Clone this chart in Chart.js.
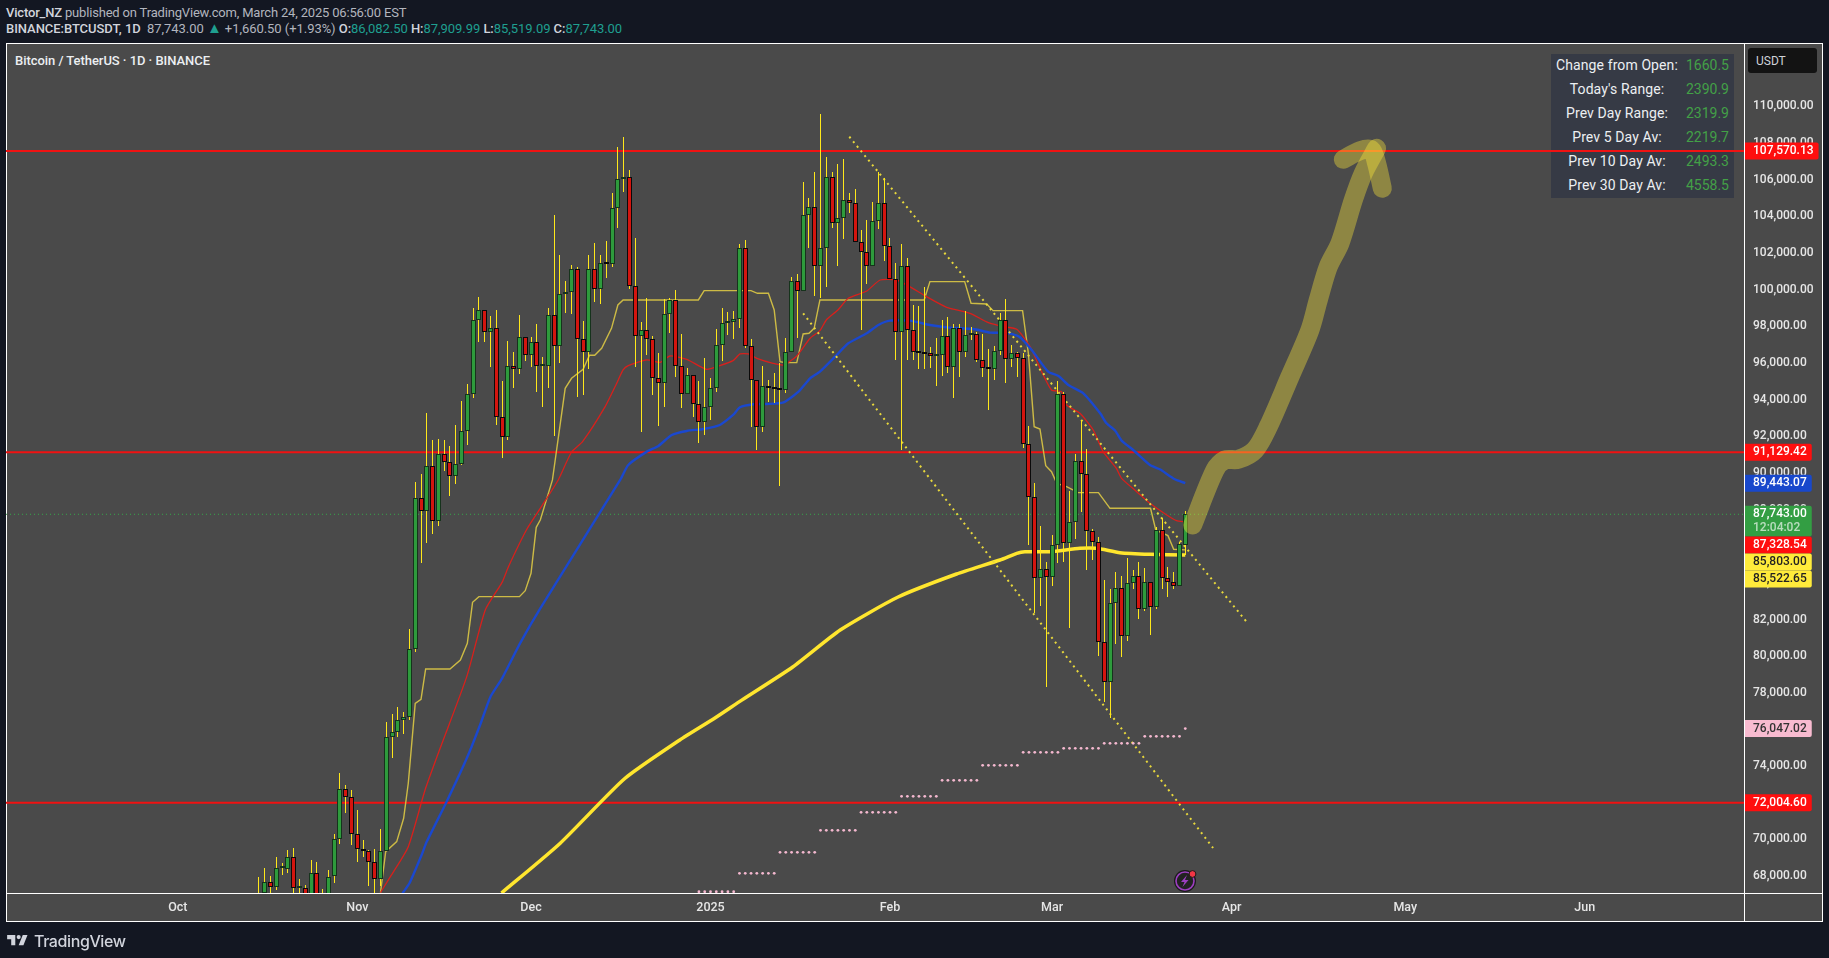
<!DOCTYPE html>
<html>
<head>
<meta charset="utf-8">
<title>BTCUSDT 1D</title>
<script src="https://cdn.jsdelivr.net/npm/chart.js@4/dist/chart.umd.min.js"></script>
<style>
  html, body { margin: 0; padding: 0; background: #131722; }
  body { width: 1829px; height: 958px; position: relative; overflow: hidden; font-family: Roboto, sans-serif; }
  .hdr { position: absolute; left: 6px; font-size: 13px; white-space: nowrap; color: #b2b5be; line-height: 16px; letter-spacing: -0.18px; }
  .hdr b { font-weight: 500; color: #d1d4dc; }
  .hdr .up { color: #1f9f90; }
  #pane { position: absolute; left: 7px; top: 44px; width: 1815px; height: 877px; background: #4a4a4a; outline: 1px solid #fff; }
  #vline { position: absolute; left: 1737px; top: 0; width: 1px; height: 877px; background: #fff; }
  #hline { position: absolute; left: 0; top: 849px; width: 1815px; height: 1px; background: #fff; }
  #title { position: absolute; left: 8px; top: 9px; font-size: 13px; font-weight: 500; color: #eceff2; letter-spacing: -0.05px; }
  #stats { position: absolute; left: 1544px; top: 10px; width: 183px; height: 144px; background: #363a45; }
  #stats div { position: absolute; height: 24px; line-height: 23px; font-size: 14px; white-space: nowrap; }
  #stats .k { color: #eceff2; left: 0; width: 132px; text-align: center; letter-spacing: 0.1px; }
  #stats .v { color: #43a047; right: 5px; }
  #usdt { position: absolute; left: 1741px; top: 4px; width: 69px; height: 25px; line-height: 26px; background: #131313; border-radius: 3px; color: #cfd2d8; font-size: 12px; padding-left: 8px; box-sizing: border-box; }
  canvas { position: absolute; left: 0; top: 0; }
  #bolt { position: absolute; left: 1172px; top: 867px; }
  #logo { position: absolute; left: 5px; top: 931px; height: 19px; display: flex; align-items: center; color: #d1d4dc; font-family: Inter, sans-serif; font-size: 16px; font-weight: 500; letter-spacing: -0.4px; }
</style>
</head>
<body>
<div class="hdr" style="top:5px"><b>Victor_NZ</b> published on TradingView.com, March 24, 2025 06:56:00 EST</div>
<div class="hdr" style="top:21px;letter-spacing:-0.05px"><b>BINANCE:BTCUSDT, 1D</b> &nbsp;87,743.00 <span class="up" style="font-size:15px;line-height:12px">▲</span> +1,660.50 (+1.93%) <b>O:</b><span class="up">86,082.50</span> <b>H:</b><span class="up">87,909.99</span> <b>L:</b><span class="up">85,519.09</span> <b>C:</b><span class="up">87,743.00</span></div>
<div id="pane">
  <div id="title">Bitcoin / TetherUS · 1D · BINANCE</div>
  <div id="stats"></div>
  <div id="vline"></div>
  <div id="hline"></div>
  <div id="usdt">USDT</div>
</div>
<canvas id="chart" width="1829" height="958"></canvas>
<svg id="bolt" width="26" height="26" viewBox="0 0 26 26">
  <circle cx="13" cy="14" r="11" fill="#1a1a1a"/>
  <circle cx="13" cy="14" r="9" fill="#222" stroke="#9c3fc0" stroke-width="1.6"/>
  <path d="M15 8l-6 7h3.5l-2 5 6-7h-3.5z" fill="#9c3fc0"/>
  <circle cx="20.5" cy="7" r="3.4" fill="#f23645" stroke="#1a1a1a"/>
</svg>
<div id="logo">
  <svg width="26" height="19" viewBox="0 0 36 28" style="margin-right:3px"><path fill="#d1d4dc" d="M14 6H2v6h6v9h6V6Zm12 15h-7l6-15h7l-6 15Zm-7-9a3 3 0 1 0 0-6 3 3 0 0 0 0 6Z"/></svg>
  TradingView
</div>
<script>
// days are counted from 2024-10-01 (day 0), first candle is 2024-10-15
const firstCandleDay = 14;
const candleOpen = [
  65600,67050,67660,67420,68430,68400,69060,67370,67370,66680,68170,66630,67020,68000,70000,72730,72340,
  70290,69500,69380,68790,67830,69380,75590,75880,76540,76700,80370,88650,87950,90360,87350,91020,90590,89860,90470,92310,94290,98330,98880,97680,97900,93040,91950,95860,95650,97440,
  96420,97170,95820,95860,98600,96950,99780,99860,101110,97290,96590,101110,100020,101440,101400,104440,106030,106130,100190,97460,97780,97290,95170,94890,98660,99420,95820,94290,95330,93750,92800,
  93580,94620,96970,98170,98220,98380,102260,96950,95060,92530,94730,94620,94570,94540,96580,100500,99950,104050,104540,101310,102260,106130,103660,103900,104880,104710,102620,102080,101310,103730,104710,
  102400,100600,97680,101310,97800,96620,96560,96530,96400,96460,97460,95760,97890,96580,97510,97560,96150,95760,95650,96640,98330,96200,96530,96260,91560,88670,84250,84740,
  84340,86050,94290,86200,87300,90630,89920,86810,86210,80760,78610,82920,83700,81120,83980,84360,82590,84030,82700,86870,84250,84070,83850,86082.5
];
const candleHigh = [
  67950,68450,68000,69020,68700,69420,69520,67860,67500,68850,68780,67320,68350,70280,73620,72980,72700,
  71630,69950,69400,69480,70580,76400,76850,77250,76950,81500,89530,89940,93260,91790,91850,91780,91450,92590,93930,94830,98980,99590,98880,98560,98870,95020,97200,96590,98600,97440,
  97440,98110,96310,98990,104080,101900,100480,101350,101260,98290,101900,102530,101900,102660,105260,107770,108320,106530,102800,98260,99530,97470,96530,99480,99570,99990,97580,95710,95330,95040,96260,
  95170,97840,98990,98800,98840,102480,102710,97290,95060,95840,95070,95440,95980,97350,100680,100860,105880,104990,106430,109590,107240,106440,106840,107120,105260,105500,103260,103800,104790,106440,106080,
  102800,101440,102500,101710,99170,99110,100130,96860,97350,98350,98490,98130,98130,98840,97950,97710,97570,96750,96930,98710,99480,96980,96620,96530,92560,89430,87100,85120,
  86610,95020,94440,89030,91030,92890,91310,86920,86520,84160,83670,84580,84380,85340,84700,85120,84800,84030,87070,87520,84890,84610,86250,87909.99
];
const candleLow = [
  64800,66750,66750,67240,68060,68190,66800,66580,65250,66450,65520,66580,66800,67600,69760,71430,69680,
  68780,69030,67460,66800,67460,69380,74460,75600,75750,76500,80220,85070,86200,86670,87100,90090,88720,89380,90420,91500,94070,97160,97150,95800,92620,90830,91800,94660,95400,96130,
  95770,94440,93620,94660,92000,96020,98710,98680,94160,94260,95670,99350,99220,100660,101260,103390,105350,100040,95800,92250,96440,94260,92580,93620,97620,95260,93560,94290,93070,91620,92070,
  92890,94440,96130,97530,97310,97900,96800,92530,91250,92250,93890,93800,89260,94380,96580,97350,99950,102260,99680,99530,100170,103350,101310,102770,104170,102620,97800,100310,101310,103310,101570,
  100600,96170,91250,96170,96170,95690,95650,95750,94760,95310,95440,94110,95260,96350,97260,96070,95260,93440,95070,96440,94930,95800,95260,91380,86070,82340,82760,78340,
  83850,85100,85160,81560,86380,87890,84700,85250,80010,77480,76650,80670,79980,80830,83670,82030,82490,81160,82560,83650,83250,83650,83850,85519.09
];
const candleClose = [
  67050,67650,67420,68430,68480,69040,67370,67370,66680,68170,66630,67020,67960,70000,72730,72340,70290,
  69500,69380,68790,67830,69380,75590,75880,76540,76700,80370,88650,87950,90360,87350,91020,90590,89860,90470,92310,94290,98330,98880,97680,97900,93040,91950,95860,95650,97440,96420,
  97170,95820,95860,98600,96950,99780,99860,101110,97290,96590,101110,100020,101440,101400,104440,106030,106130,100190,97460,97780,97290,95170,94890,98660,99420,95820,94290,95330,93750,92800,93580,
  94620,96970,98170,98220,98380,102260,96950,95060,92530,94730,94620,94570,94540,96580,100500,99950,104050,104540,101310,102260,106130,103660,103900,104880,104710,102620,102080,101310,103730,104710,102400,
  100600,97680,101310,97800,96620,96560,96500,96400,96450,97460,95760,97890,96580,97510,97530,96150,95750,95650,96640,98330,96200,96530,96260,91560,88670,84250,84740,84340,
  86050,94290,86200,87300,90630,89920,86810,86210,80760,78610,82920,83700,81120,83980,84360,82590,84030,82700,86870,84250,84070,83850,86100,87743
];

// slow moving average, thick yellow
const smaDays = [55.9,66,77.1,86.7,92.7,97.4,106.2,114.4,124.4,134.5,142,144.9,146.3,150.6,155.8,158.7,162.7,167.9,174];
const smaValues = [67075,69781,73296,75425,76610,77600,79409,81428,83229,84484,85250,85614,85702,85702,85888,85888,85648,85560,85522.65];

// blue average
const blueDays = [38.8,40,42.1,43,46.4,49.9,52.2,54,56,59.1,62.6,76.4,77.8,81,83,85.3,87.9,90.8,93.6,95.9,97.1,99.4,101.7,104.6,107.2,109.2,110.9,113.8,115.8,119,121,123,126.4,129.9,133.3,137.4,140.3,143.1,145.4,147.7,150.3,152.1,153.8,156.4,159.3,160.4,161.9,163,165,167.9,169.6,172.2,174];
const blueValues = [67060,67605,69150,69880,72043,74426,76245,77790,78792,80700,82610,89617,90435,91163,91472,92072,92291,92400,92618,93164,93583,93746,93764,93855,94437,95165,95529,96438,97074,97620,98075,98311,98311,98075,97929,97857,97656,97650,97420,96618,95527,95291,94799,94345,93253,92708,92307,91762,91253,90434,90197,89652,89443.07];

// red average
const redDays = [35,36.9,39.8,42.7,45.3,49.9,53.1,56,57.1,60.2,62.6,65.7,68,69.9,73.8,75.8,76.9,77.8,81,83.3,85,87.9,91.3,93.6,95.9,97.1,98.5,100,102.8,104.6,106.9,109.2,110.9,112,114,115.8,119,121.3,124.1,126.4,129.3,132.8,136.8,140,142.6,144.9,147.2,149.2,150.9,152.6,153.5,155.8,158.1,159.8,162.1,163,165.6,167.9,170.8,172.5,174];
const redValues = [67100,68060,69605,72698,74972,78882,82521,84030,84885,86886,88069,89617,91144,91708,93619,94892,95620,95856,96165,96038,96383,96201,95656,95856,96129,96493,96493,96256,95983,95892,96383,97348,97766,98348,98893,99530,99930,100530,100530,100167,99621,99039,98711,98202,97983,97837,96891,95527,94526,94436,93708,93253,92344,91161,90252,89706,88979,88342,87705,87396,87328.54];

// thin yellow band
const bandDays = [35,35.9,37.8,39,39.8,41,42,42.8,47,48.8,50,50.9,52,59,60,61,61.9,62.6,64.7,66.9,68,70,71.1,72,73.2,74.9,76,76.9,89.9,90.9,99,100.1,102,103,104,104.9,106.9,108,109,109.9,110.9,128.9,129.9,135.9,137,139.7,140.8,145.9,146.9,147.9,148.9,149.9,150.9,151.8,153.5,155.5,159,161,168,168.9,171,172,174];
const bandValues = [67100,69333,69878,71151,73062,77427,77645,79301,79301,79792,80702,82939,83248,83248,83576,84521,87032,87432,89617,94619,95165,95656,96420,96420,96802,97893,99167,99439,99439,99949,99949,99803,99803,98894,96074,96020,96020,97584,97620,97893,99439,99439,100439,100439,99257,99221,98857,98857,96527,92526,92398,90397,90070,89433,89251,88924,88924,88069,88069,86887,86578,85832,85803];

// weekly pink dots: first day of each week and its level
const pinkWeeks = [90,97,104,111,118,125,132,139,146,153,160,167,174];
const pinkLevels = [67146,68150,69296,70496,71479,72352,73226,74044,74754,74972,75245,75627,76047.02];

// horizontal levels and the last price
const redLevels = [107570.13,91129.42,72004.60];
const lastPrice = 87743;

// hand drawn lines
const upperTrendDays = [115.97,184.9];
const upperTrendValues = [108350,81755];
const lowerTrendDays = [108,178.8];
const lowerTrendValues = [98712,69530];
const arrowDays = [175.27,179.13,180.85,183.16,186.03,188.34,192.08,195.53,196.97,198.7,200.71,203.02,204.74,207.05];
const arrowValues = [87161,90162,90708,90745,91254,92527,95256,97802,99439,101258,102532,104896,106352,107716];
const arrowHeadDays = [201.29,204.17,206.18,207.05,208.03];
const arrowHeadValues = [107116,107589,107625,106897,105533];

// axes
const monthDays = [0,31,61,92,123,151,182,212,243];
const monthLabels = ["Oct","Nov","Dec","2025","Feb","Mar","Apr","May","Jun"];
const priceTicks = [68000,70000,72000,74000,76000,78000,80000,82000,84000,86000,88000,90000,92000,94000,96000,98000,100000,102000,104000,106000,108000,110000];

// labels on the price axis
const tagValues = [107570.13,91129.42,89443.07,87743,87328.54,85803,85522.65,76047.02,72004.60];
const tagFills = ["#ff0e0e","#ff0e0e","#1848cc","#339e43","#ff0e0e","#ffeb3b","#ffeb3b","#f8bbd0","#ff0e0e"];
const tagInks = ["#fff","#fff","#fff","#fff","#fff","#222","#222","#333","#fff"];

// table top right
const statNames = ["Change from Open:","Today's Range:","Prev Day Range:","Prev 5 Day Av:","Prev 10 Day Av:","Prev 30 Day Av:"];
const statValues = ["1660.5","2390.9","2319.9","2219.7","2493.3","4558.5"];

const stats = document.getElementById("stats");
statNames.forEach((name, i) => {
  stats.insertAdjacentHTML("beforeend",
    `<div class="k" style="top:${i * 24}px">${name}</div><div class="v" style="top:${i * 24}px">${statValues[i]}</div>`);
});

const pairs = (days, values) => days.map((d, i) => ({ x: d, y: values[i] }));
const money = v => v.toLocaleString("en-US", { minimumFractionDigits: 2, maximumFractionDigits: 2 });

const pinkDots = [];
pinkWeeks.forEach((d, i) => {
  const count = i === pinkWeeks.length - 1 ? 1 : 7;
  for (let k = 0; k < count; k++) pinkDots.push({ x: d + k, y: pinkLevels[i] });
});

const wicks = candleHigh.map((h, i) => ({ x: firstCandleDay + i, y: [candleLow[i], h] }));
const bodies = candleOpen.map((o, i) => ({ x: firstCandleDay + i, y: [o, candleClose[i]] }));
const isUp = i => candleClose[i] >= candleOpen[i];

const xMin = -29.68, xMax = 270.5;
const yMin = 67075, yMax = 113464;

function thin(data, color, width, order, extra) {
  return Object.assign({ type: "line", data, borderColor: color, borderWidth: width, pointRadius: 0, order, tension: 0 }, extra);
}

// candles look blurred on half pixels, so snap the bar elements before they are painted
const snapBars = {
  id: "snapBars",
  beforeDatasetsDraw(chart) {
    chart.data.datasets.forEach((ds, i) => {
      if (ds.type !== "bar") return;
      chart.getDatasetMeta(i).data.forEach(el => {
        el.x = Math.floor(el.x) + 0.5;
        el.y = Math.round(el.y);
        el.base = Math.round(el.base);
        el.width = ds.snapWidth;
        if (ds.minBarLength && Math.abs(el.base - el.y) < 2) el.base = el.y + 2;
      });
    });
  }
};

// draws the coloured price labels over the axis, pushed down when they collide
const priceTags = {
  id: "priceTags",
  afterDraw(chart) {
    const ctx = chart.ctx, yScale = chart.scales.y;
    const left = chart.chartArea.right + 1;
    ctx.save();
    ctx.font = "500 12px Roboto";
    ctx.textBaseline = "middle";
    let bottom = 0;
    tagValues.forEach((v, i) => {
      const isLast = v === lastPrice;
      const h = isLast ? 30.7 : 17;
      const center = yScale.getPixelForValue(v);
      const top = Math.max(center - 8.5, bottom);
      bottom = top + h;
      const label = money(v);
      const w = ctx.measureText(label).width + 13;
      ctx.fillStyle = tagFills[i];
      ctx.beginPath();
      ctx.roundRect(left, top, w, h, [0, 2, 2, 0]);
      ctx.fill();
      ctx.fillStyle = tagInks[i];
      ctx.fillText(label, left + 8, top + 8.7);
      if (isLast) {
        ctx.globalAlpha = 0.65;
        ctx.fillText("12:04:02", left + 8, top + 22.5);
        ctx.globalAlpha = 1;
      }
    });
    ctx.restore();
  }
};

new Chart(document.getElementById("chart"), {
  type: "bar",
  plugins: [snapBars, priceTags],
  data: {
    datasets: [
      thin(pairs(arrowDays, arrowValues), "rgba(255,235,59,0.38)", 19, 0, { tension: 0.3, borderCapStyle: "round", borderJoinStyle: "round" }),
      thin(pairs(arrowHeadDays, arrowHeadValues), "rgba(255,235,59,0.38)", 19, 0, { tension: 0.3, borderCapStyle: "round", borderJoinStyle: "round" }),
      { type: "bar", data: bodies, order: 1, grouped: false, barPercentage: 0.86, snapWidth: 5, minBarLength: 2, borderWidth: 1, borderSkipped: false,
        backgroundColor: c => isUp(c.dataIndex) ? "#2e9b3c" : "#d3150f",
        borderColor: c => isUp(c.dataIndex) ? "#16331c" : "#0a0a0a" },
      { type: "bar", data: wicks, order: 2, grouped: false, barPercentage: 0.2, snapWidth: 1, borderWidth: 0, backgroundColor: "#ffe81a" },
      thin(pinkDots, "#f4b8cf", 0, 3, { showLine: false, pointRadius: 1.4, pointBackgroundColor: "#f4b8cf", pointBorderWidth: 0 }),
      thin(pairs(upperTrendDays, upperTrendValues), "#e8d83c", 2, 3, { borderDash: [2, 4] }),
      thin(pairs(lowerTrendDays, lowerTrendValues), "#e8d83c", 2, 3, { borderDash: [2, 4] }),
      thin(pairs(smaDays, smaValues), "#ffe62e", 3.5, 4, { tension: 0.2 }),
      thin(pairs(blueDays, blueValues), "#1a48cf", 2.4, 5, { tension: 0.2 }),
      thin(pairs(redDays, redValues), "#d8201c", 1.3, 6, { tension: 0.2 }),
      thin(pairs(bandDays, bandValues), "#cdbb45", 1.4, 7),
      thin([{ x: xMin, y: lastPrice }, { x: xMax, y: lastPrice }], "#36a54a", 1, 8, { borderDash: [1, 3] }),
      ...redLevels.map(v => thin([{ x: xMin, y: v }, { x: xMax, y: v }], "#f01212", 2, 8)),
    ]
  },
  options: {
    responsive: false,
    animation: false,
    devicePixelRatio: 1,
    layout: { padding: { left: 6, top: 43, right: 7, bottom: 37 } },
    plugins: { legend: { display: false }, tooltip: { enabled: false } },
    scales: {
      x: {
        type: "linear",
        min: xMin,
        max: xMax,
        offset: false,
        grid: { display: false, drawTicks: false },
        border: { display: false },
        afterBuildTicks: s => { s.ticks = monthDays.map(value => ({ value })); },
        afterFit: s => { s.height = 28; },
        ticks: {
          autoSkip: false,
          maxRotation: 0,
          padding: 7,
          color: "#e6e6e6",
          font: { family: "Roboto", size: 12.5, weight: "500" },
          callback: v => monthLabels[monthDays.indexOf(v)]
        }
      },
      y: {
        position: "right",
        min: yMin,
        max: yMax,
        grid: { display: false, drawTicks: false },
        border: { display: false },
        afterBuildTicks: s => { s.ticks = priceTicks.map(value => ({ value })); },
        afterFit: s => { s.width = 78; },
        ticks: {
          padding: 9,
          color: "#e6e6e6",
          font: { family: "Roboto", size: 12, weight: "500" },
          callback: v => money(v)
        }
      }
    }
  }
});
</script>
</body>
</html>
